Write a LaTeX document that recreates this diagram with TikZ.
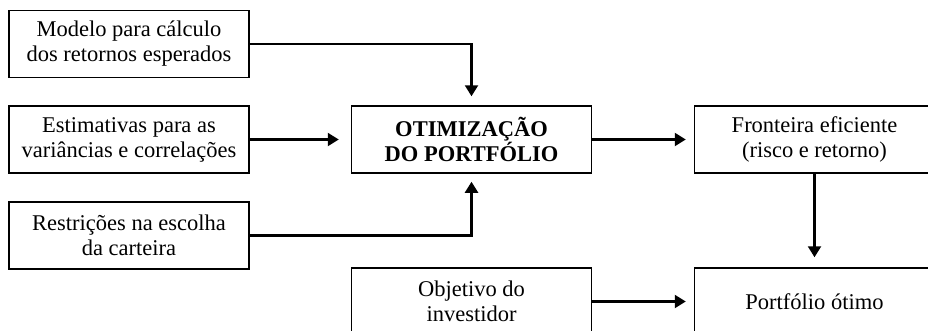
\documentclass[tikz,border=0pt]{standalone}
\usepackage{fontspec}
\setmainfont{Liberation Serif}
\usetikzlibrary{arrows.meta}
\begin{document}
\begin{tikzpicture}[x=1pt,y=-1pt,
  box/.style={draw,line width=1.5pt,minimum width=240pt,minimum height=67pt,
    align=center,inner sep=0pt,font=\fontsize{22.5}{25}\selectfont},
  conn/.style={line width=2.2pt,-{Triangle[length=11pt,width=13pt]}}]
\useasboundingbox (0,0) rectangle (928,330);
\clip (0,0) rectangle (928,330);
\node[box] (modelo) at (129,44) {Modelo para cálculo\\dos retornos esperados};
\node[box] (estim) at (129,139.5) {Estimativas para as\\variâncias e correlações};
\node[box] (restr) at (129,235.5) {Restrições na escolha\\da carteira};
\node[box] (otim) at (471.5,139.5) {\textbf{OTIMIZAÇÃO}\\\textbf{DO PORTFÓLIO}};
\node[box] (objet) at (471.5,301.5) {Objetivo do\\investidor};
\node[box] (front) at (814.5,139.5) {Fronteira eficiente\\(risco e retorno)};
\node[box] (port) at (814.5,301.5) {Portfólio ótimo};
\draw[conn,shorten >=9pt] (modelo.east) -| (otim.north);
\draw[conn,shorten >=12pt] (estim.east) -- (otim.west);
\draw[conn,shorten >=8pt] (restr.east) -| (otim.south);
\draw[conn,shorten >=8pt] (otim.east) -- (front.west);
\draw[conn,shorten >=10pt] (front.south) -- (port.north);
\draw[conn,shorten >=8pt] (objet.east) -- (port.west);
\end{tikzpicture}
\end{document}
